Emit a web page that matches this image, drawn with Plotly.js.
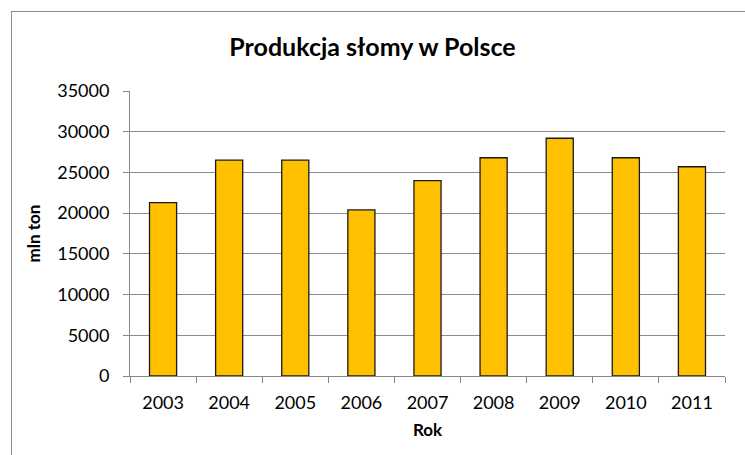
<!DOCTYPE html>
<html>
<head>
<meta charset="utf-8">
<script src="https://cdn.plot.ly/plotly-3.0.1.min.js"></script>
<style>
  html, body { margin: 0; padding: 0; background: #fff; }
  #wrap { position: relative; width: 745px; height: 455px; overflow: hidden; }
  #chart { position: absolute; left: 0; top: 0; width: 745px; height: 455px; }
  #frame { position: absolute; left: 11px; top: 11px; width: 760px; height: 470px;
           border: 1px solid #8c8c8c; pointer-events: none; }
</style>
</head>
<body>
<div id="wrap">
  <div id="chart"></div>
  <div id="frame"></div>
</div>
<script>
const years = ["2003", "2004", "2005", "2006", "2007", "2008", "2009", "2010", "2011"];
const production = [21300, 26500, 26500, 20400, 24000, 26800, 29200, 26800, 25700];
const yTicks = [0, 5000, 10000, 15000, 20000, 25000, 30000, 35000];

const FONT = "Lato, 'Open Sans', sans-serif";

const trace = {
  type: "bar",
  x: years,
  y: production,
  marker: { color: "#FFC000", line: { color: "#1a1a1a", width: 1.3 } },
  hoverinfo: "x+y"
};

const layout = {
  width: 745,
  height: 455,
  margin: { l: 130, r: 20, t: 91, b: 79 },
  paper_bgcolor: "rgba(0,0,0,0)",
  plot_bgcolor: "#fff",
  showlegend: false,
  bargap: 0.59,
  font: { family: FONT, size: 18, color: "#000" },
  title: {
    text: "<b>Produkcja słomy w Polsce</b>",
    font: { family: FONT, size: 25, color: "#000" },
    x: 0.5, xanchor: "center",
    y: 1 - 47 / 455, yanchor: "middle"
  },
  xaxis: {
    type: "category",
    tickvals: years,
    ticktext: years,
    showline: true, linecolor: "#868686", linewidth: 1,
    ticks: "outside", tickson: "boundaries", ticklen: 6, tickcolor: "#868686",
    ticklabelstandoff: 10,
    showgrid: false,
    tickfont: { family: FONT, size: 18, color: "#000" },
    title: { text: "<b>Rok</b>", font: { family: FONT, size: 17 }, standoff: 12 }
  },
  yaxis: {
    range: [0, 35000],
    tickvals: yTicks,
    ticktext: yTicks.map(String),
    showline: true, linecolor: "#868686", linewidth: 1,
    ticks: "outside", ticklen: 6, tickcolor: "#868686",
    ticklabelstandoff: 10,
    showgrid: true, gridcolor: "#8c8c8c", gridwidth: 1,
    zeroline: false,
    tickfont: { family: FONT, size: 18, color: "#000" },
    title: { text: "<b>mln ton</b>", font: { family: FONT, size: 17 }, standoff: 12 }
  }
};

Plotly.newPlot("chart", [trace], layout, { displayModeBar: false, staticPlot: true });
</script>
</body>
</html>
